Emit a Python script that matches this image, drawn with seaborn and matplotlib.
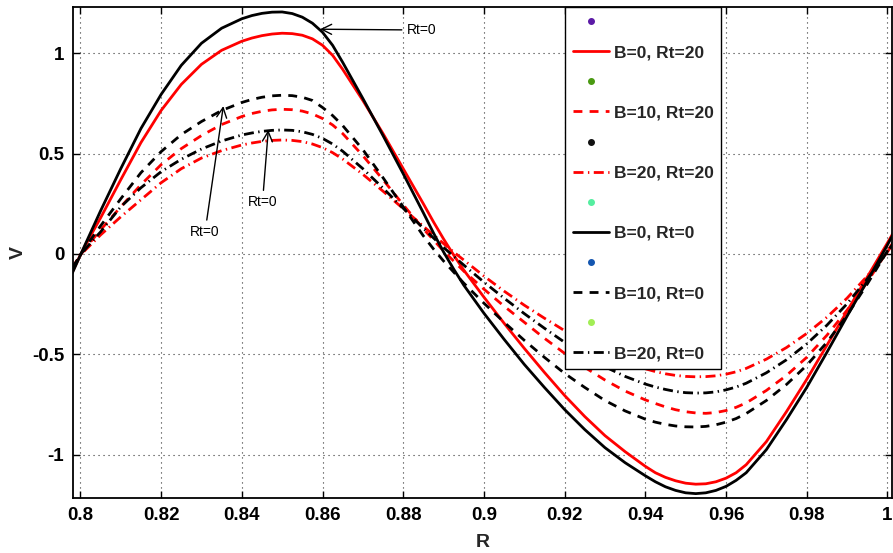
import matplotlib
matplotlib.use("Agg")
import matplotlib.pyplot as plt
from matplotlib.lines import Line2D
import pandas as pd
import seaborn as sns

# radial coordinate (denser near the extrema)
R = [0.798, 0.800, 0.8025, 0.805, 0.810, 0.815, 0.820, 0.825, 0.830, 0.835,
     0.840, 0.8425, 0.845, 0.8475, 0.850, 0.8525, 0.855, 0.8575, 0.860, 0.8625,
     0.865, 0.870, 0.875, 0.880, 0.885, 0.8875, 0.890, 0.8925, 0.895, 0.900,
     0.905, 0.910, 0.915, 0.920, 0.925, 0.930, 0.935, 0.940, 0.9425, 0.945,
     0.9475, 0.950, 0.9525, 0.955, 0.9575, 0.960, 0.9625, 0.965, 0.970, 0.975,
     0.980, 0.985, 0.990, 0.995, 1.000, 1.002]

# velocity profiles V(R)
v_b0_rt20 = [-0.09, -0.005, 0.09, 0.18, 0.37, 0.555, 0.715, 0.845, 0.945, 1.015,
             1.06, 1.076, 1.088, 1.096, 1.10, 1.098, 1.09, 1.072, 1.04, 0.99,
             0.92, 0.765, 0.60, 0.425, 0.25, 0.16, 0.075, -0.005, -0.08, -0.215,
             -0.345, -0.47, -0.59, -0.705, -0.81, -0.905, -0.985, -1.058, -1.09, -1.113,
             -1.13, -1.142, -1.147, -1.145, -1.135, -1.117, -1.09, -1.05, -0.935, -0.785,
             -0.625, -0.455, -0.285, -0.115, 0.055, 0.125]
v_b10_rt20 = [-0.07, -0.005, 0.06, 0.12, 0.235, 0.345, 0.445, 0.525, 0.59, 0.645,
              0.685, 0.70, 0.711, 0.718, 0.721, 0.719, 0.712, 0.698, 0.675, 0.643,
              0.60, 0.49, 0.37, 0.245, 0.125, 0.07, 0.015, -0.035, -0.085, -0.175,
              -0.26, -0.34, -0.42, -0.495, -0.565, -0.628, -0.683, -0.727, -0.745, -0.762,
              -0.776, -0.786, -0.792, -0.794, -0.79, -0.78, -0.764, -0.742, -0.68, -0.605,
              -0.515, -0.405, -0.28, -0.14, 0.015, 0.075]
v_b20_rt20 = [-0.07, -0.005, 0.045, 0.095, 0.185, 0.27, 0.355, 0.425, 0.478, 0.515,
              0.543, 0.553, 0.561, 0.566, 0.568, 0.566, 0.56, 0.548, 0.53, 0.505,
              0.473, 0.397, 0.313, 0.226, 0.138, 0.095, 0.052, 0.01, -0.03, -0.11,
              -0.185, -0.255, -0.32, -0.382, -0.44, -0.492, -0.537, -0.572, -0.586, -0.597,
              -0.605, -0.61, -0.612, -0.611, -0.607, -0.599, -0.587, -0.57, -0.524, -0.466,
              -0.396, -0.315, -0.22, -0.11, 0.01, 0.07]
v_b0_rt0 = [-0.095, -0.005, 0.105, 0.215, 0.425, 0.625, 0.795, 0.94, 1.05, 1.125,
            1.172, 1.188, 1.199, 1.205, 1.206, 1.198, 1.18, 1.15, 1.105, 1.04,
            0.955, 0.775, 0.59, 0.40, 0.205, 0.105, 0.01, -0.075, -0.155, -0.295,
            -0.425, -0.55, -0.665, -0.775, -0.875, -0.965, -1.04, -1.105, -1.135, -1.16,
            -1.178, -1.19, -1.194, -1.19, -1.178, -1.158, -1.128, -1.09, -0.975, -0.825,
            -0.665, -0.49, -0.31, -0.135, 0.045, 0.12]
v_b10_rt0 = [-0.075, -0.005, 0.07, 0.14, 0.275, 0.405, 0.51, 0.595, 0.66, 0.715,
             0.755, 0.77, 0.781, 0.788, 0.791, 0.789, 0.781, 0.765, 0.73, 0.69,
             0.64, 0.52, 0.38, 0.235, 0.09, 0.025, -0.035, -0.09, -0.145, -0.245,
             -0.34, -0.43, -0.515, -0.595, -0.665, -0.73, -0.782, -0.823, -0.838, -0.849,
             -0.857, -0.861, -0.862, -0.859, -0.851, -0.838, -0.82, -0.795, -0.73, -0.65,
             -0.555, -0.44, -0.305, -0.15, 0.015, 0.075]
v_b20_rt0 = [-0.07, -0.005, 0.055, 0.11, 0.235, 0.33, 0.41, 0.472, 0.523, 0.563,
             0.593, 0.603, 0.611, 0.616, 0.618, 0.616, 0.609, 0.596, 0.576, 0.548,
             0.512, 0.425, 0.328, 0.228, 0.128, 0.08, 0.033, -0.012, -0.055, -0.14,
             -0.22, -0.297, -0.37, -0.44, -0.505, -0.562, -0.61, -0.648, -0.663, -0.675,
             -0.685, -0.691, -0.693, -0.692, -0.687, -0.677, -0.663, -0.644, -0.592, -0.527,
             -0.448, -0.355, -0.248, -0.125, 0.01, 0.07]

labels = ["B=0, Rt=20", "B=10, Rt=20", "B=20, Rt=20",
          "B=0, Rt=0", "B=10, Rt=0", "B=20, Rt=0"]
series = [v_b0_rt20, v_b10_rt20, v_b20_rt20, v_b0_rt0, v_b10_rt0, v_b20_rt0]
colors = ["#ff0000", "#ff0000", "#ff0000", "#000000", "#000000", "#000000"]
dash_pat = (0, (3.2, 2.6))
dashdot_pat = (0, (3.6, 1.6, 0.5, 1.6))
styles = ["-", dash_pat, dashdot_pat, "-", dash_pat, dashdot_pat]
dot_colors = ["#5b1aa6", "#4a9a12", "#111111", "#55eea0", "#1456b0", "#a2ee55"]

xticks = [0.80, 0.82, 0.84, 0.86, 0.88, 0.90, 0.92, 0.94, 0.96, 0.98, 1.00]
xticklabels = ["0.8", "0.82", "0.84", "0.86", "0.88", "0.9", "0.92", "0.94", "0.96", "0.98", "1"]
yticks = [-1, -0.5, 0, 0.5, 1]
yticklabels = ["-1", "-0.5", "0", "0.5", "1"]

sns.set_style("white")
plt.rcParams["font.family"] = ["Liberation Sans", "DejaVu Sans"]

fig = plt.figure(figsize=(8.93, 5.53), dpi=100)
ax = fig.add_axes([0.0814, 0.0986, 0.9175, 0.8882])

df = pd.DataFrame({"R": R})
for lab, vals, col, ls in zip(labels, series, colors, styles):
    df[lab] = vals
    sns.lineplot(data=df, x="R", y=lab, ax=ax, color=col, linestyle=ls,
                 linewidth=2.0, estimator=None, sort=False, legend=False)

ax.set_xlim(0.79809, 1.00114)
ax.set_ylim(-1.2182, 1.2292)
ax.set_xticks(xticks)
ax.set_xticklabels(xticklabels)
ax.set_yticks(yticks)
ax.set_yticklabels(yticklabels)
for lbl in ax.get_xticklabels() + ax.get_yticklabels():
    lbl.set_fontweight("bold")
    lbl.set_fontsize(13.5)

ax.tick_params(direction="in", length=5, width=1.0, top=True, right=True,
               bottom=True, left=True, pad=6, colors="black")
ax.grid(True, linestyle=(0, (1, 3.5)), color="#333333", linewidth=0.8)
for sp in ax.spines.values():
    sp.set_color("black")
    sp.set_linewidth(1.3)

ax.set_xlabel("R", fontsize=14, fontweight="bold")
ax.set_ylabel("V", fontsize=14, fontweight="bold")
ax.xaxis.set_label_coords(0.5, -0.0906)
ax.xaxis.label.set_va("center")
ax.yaxis.set_label_coords(-0.0668, 0.5)
ax.yaxis.label.set_va("center")

# legend: a coloured marker row above each curve entry
leg_handles, leg_labels = [], []
for dc, col, ls, lab in zip(dot_colors, colors, styles, labels):
    leg_handles.append(Line2D([], [], marker="o", linestyle="none",
                              color=dc, markersize=4))
    leg_labels.append(" ")
    leg_handles.append(Line2D([], [], color=col, linestyle=ls, linewidth=2.0))
    leg_labels.append(lab)
leg = ax.legend(leg_handles, leg_labels, loc="upper left",
                bbox_to_anchor=(0.6009, 1.0), borderaxespad=0,
                prop={"family": "Liberation Sans", "weight": "bold", "size": 12.5},
                handlelength=2.1, handletextpad=0.25, borderpad=0.45,
                labelspacing=0.86, frameon=True, fancybox=False, numpoints=1)
leg.get_frame().set_edgecolor("black")
leg.get_frame().set_linewidth(1.0)
leg.get_frame().set_alpha(1.0)

# arrows marking the Rt=0 curves
ann_font = dict(fontsize=10, color="black")
arrow = dict(arrowstyle="->", color="black", lw=1.0, shrinkA=1, shrinkB=0,
             mutation_scale=18)
ax.annotate("Rt=0", xy=(0.8594, 1.12), xytext=(0.8808, 1.116),
            ha="left", va="center", arrowprops=arrow, **ann_font)
ax.annotate("Rt=0", xy=(0.83542, 0.737), xytext=(0.8309, 0.111),
            ha="center", va="center", arrowprops=arrow, **ann_font)
ax.annotate("Rt=0", xy=(0.84657, 0.618), xytext=(0.84513, 0.259),
            ha="center", va="center", arrowprops=arrow, **ann_font)

fig.savefig("out.png", dpi=100)
